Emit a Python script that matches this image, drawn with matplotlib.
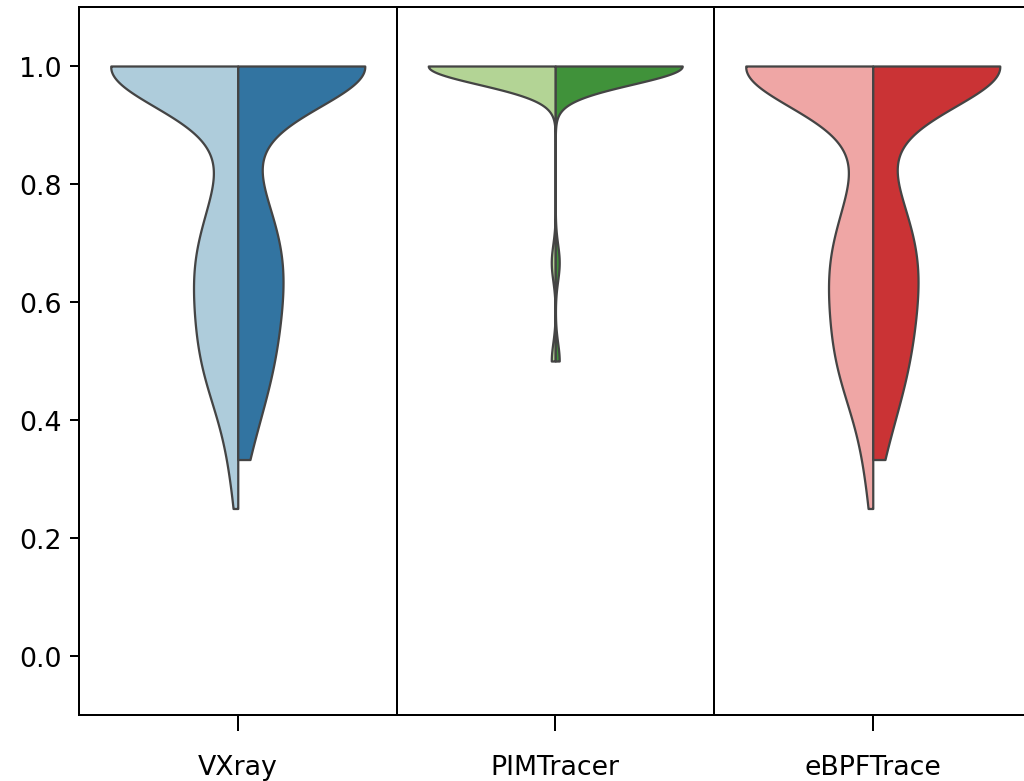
"""
Split violin plot of per-case scores for three tracers.
"""

import colorsys

import numpy as np
import matplotlib
matplotlib.use("Agg")
import matplotlib.pyplot as plt
from matplotlib.colors import to_rgb

# ---- data (score value -> number of cases) ----
tools = ["VXray", "PIMTracer", "eBPFTrace"]

scores = [0.25, 0.30, 0.333, 0.40, 0.45, 0.50, 0.55, 0.60,
          0.65, 0.667, 0.70, 0.75, 0.80, 0.85, 0.90, 0.95, 1.00]

vxray_a = [1, 2, 3, 5, 9, 13, 12, 12, 15, 0, 13, 9, 6, 4, 2, 1, 126]
vxray_b = [0, 0, 5, 7, 9, 12, 12, 13, 15, 0, 14, 10, 7, 3, 1, 1, 128]
pim_a   = [0, 0, 0, 0, 0, 1, 0, 0, 0, 1, 0, 0, 0, 0, 0, 0, 32]
pim_b   = [0, 0, 0, 0, 0, 1, 0, 0, 0, 1, 0, 0, 0, 0, 0, 0, 32]
ebpf_a  = [1, 2, 3, 5, 9, 13, 12, 12, 15, 0, 13, 9, 6, 4, 2, 1, 126]
ebpf_b  = [0, 0, 5, 7, 9, 12, 12, 13, 15, 0, 14, 10, 7, 3, 1, 1, 128]

counts = {
    "VXray":     (vxray_a, vxray_b),
    "PIMTracer": (pim_a, pim_b),
    "eBPFTrace": (ebpf_a, ebpf_b),
}

# kernel bandwidth per tool
bandwidth = {"VXray": 0.07, "PIMTracer": 0.031, "eBPFTrace": 0.07}

paired = {
    "VXray":     ("#a6cee3", "#1f78b4"),
    "PIMTracer": ("#b2df8a", "#33a02c"),
    "eBPFTrace": ("#fb9a99", "#e31a1c"),
}


def desaturate(color, prop=0.75):
    h, l, s = colorsys.rgb_to_hls(*to_rgb(color))
    return colorsys.hls_to_rgb(h, l, s * prop)


def half_profile(values, weights, bw, n=300):
    values = np.asarray(values, dtype=float)
    weights = np.asarray(weights, dtype=float)
    keep = weights > 0
    values, weights = values[keep], weights[keep]
    y = np.linspace(values.min(), values.max(), n)
    dens = (weights[None, :] *
            np.exp(-0.5 * ((y[:, None] - values[None, :]) / bw) ** 2)).sum(axis=1)
    return y, dens / dens.max()


plt.rcParams["font.family"] = ["DejaVu Sans"]
plt.rcParams["font.size"] = 10.7

fig = plt.figure(figsize=(1024 / 180, 782 / 180), dpi=180)
ax = fig.add_axes([79 / 1024, 66 / 782, 952.5 / 1024, 708 / 782])

half_width = 0.4
edge = "#444444"

for i, tool in enumerate(tools):
    for side, (w, col) in enumerate(zip(counts[tool], paired[tool])):
        y, d = half_profile(scores, w, bandwidth[tool])
        hw = half_width * d
        if side == 0:
            x0, x1 = i - hw, np.full_like(hw, i)
        else:
            x0, x1 = np.full_like(hw, i), i + hw
        ax.fill_betweenx(y, x0, x1, facecolor=desaturate(col),
                         edgecolor=edge, linewidth=0.9, zorder=2)

for xv in (0.5, 1.5):
    ax.axvline(xv, color="black", linewidth=0.8, zorder=3)

ax.set_xlim(-0.5, 2.5)
ax.set_ylim(-0.1, 1.1)
ax.set_xticks(range(len(tools)))
ax.set_xticklabels(tools)
ax.set_yticks([0.0, 0.2, 0.4, 0.6, 0.8, 1.0])
ax.tick_params(axis="x", length=6.5, pad=9)

fig.savefig("out.png", dpi=180)
